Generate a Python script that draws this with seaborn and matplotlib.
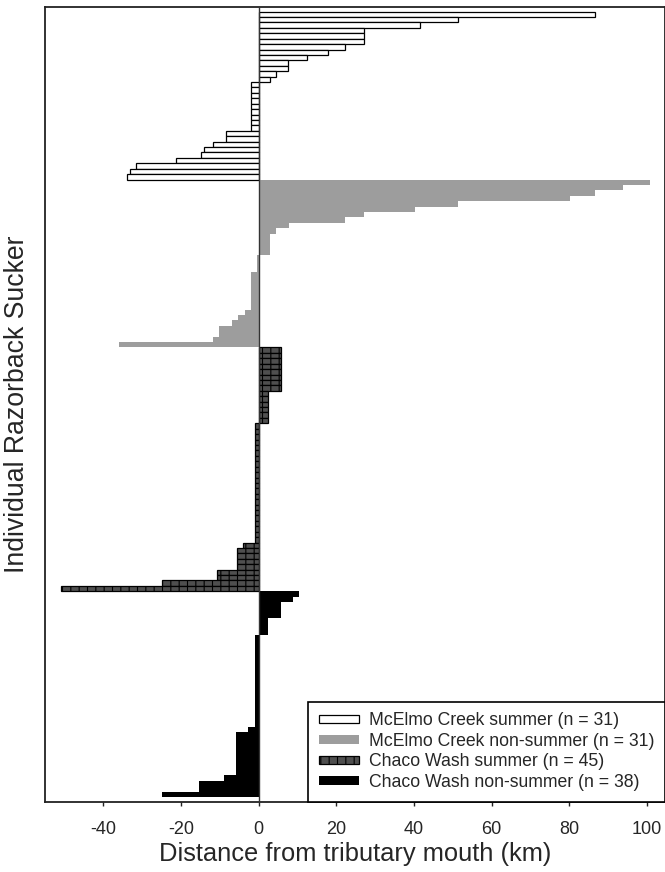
import matplotlib
matplotlib.use("Agg")
import matplotlib.pyplot as plt
from matplotlib.patches import Patch
import pandas as pd
import seaborn as sns

# Distance (km) from the tributary mouth for each tagged fish, sorted within group
mcelmo_summer = [86.7, 51.2, 41.6, 27.0, 27.0, 27.0, 22.2, 17.9, 12.5, 7.6, 7.6, 4.5, 2.8,
                 -1.9, -1.9, -1.9, -1.9, -1.9, -1.9, -1.9, -1.9, -2.1,
                 -8.3, -8.3, -11.7, -14.1, -14.8, -21.3, -31.5, -33.0, -34.0]
mcelmo_nonsummer = [100.7, 93.8, 86.7, 80.2, 51.2, 40.2, 27.1, 22.2, 7.8, 4.5,
                    2.9, 2.9, 2.9, 2.9, -0.5, -0.5, -0.5,
                    -2.0, -2.0, -2.0, -2.0, -2.0, -2.0, -2.0,
                    -3.5, -5.2, -6.8, -10.1, -10.1, -11.7, -35.9]
chaco_summer = [5.75, 5.75, 5.75, 5.75, 5.75, 5.75, 5.75, 5.75,
                2.5, 2.5, 2.5, 2.5, 2.5, 2.5,
                -0.86, -0.86, -0.86, -0.86, -0.86, -0.86, -0.86, -0.86, -0.86, -0.86, -0.86,
                -0.86, -0.86, -0.86, -0.86, -0.86, -0.86, -0.86, -0.86, -0.86, -0.86, -0.86,
                -4.1, -5.6, -5.6, -5.6, -5.6, -10.6, -10.6, -25.0, -50.8]
chaco_nonsummer = [10.3, 8.8, 5.7, 5.7, 5.7, 2.3, 2.3, 2.3,
                   -1.0, -1.0, -1.0, -1.0, -1.0, -1.0, -1.0, -1.0, -1.0, -1.0, -1.0, -1.0,
                   -1.0, -1.0, -1.0, -1.0, -1.0,
                   -2.7, -5.8, -5.8, -5.8, -5.8, -5.8, -5.8, -5.8, -5.8,
                   -8.9, -15.4, -15.4, -25.0]

group_names = ["McElmo Creek summer", "McElmo Creek non-summer",
               "Chaco Wash summer", "Chaco Wash non-summer"]
group_values = [mcelmo_summer, mcelmo_nonsummer, chaco_summer, chaco_nonsummer]
x_ticks = [-40, -20, 0, 20, 40, 60, 80, 100]

rows = []
for name, vals in zip(group_names, group_values):
    for v in vals:
        rows.append({"group": name, "distance": v})
df = pd.DataFrame(rows)
df["fish"] = [f"f{i:03d}" for i in range(len(df))]
labels = [f"{n} (n = {len(v)})" for n, v in zip(group_names, group_values)]

sns.set_style("ticks")
plt.rcParams["font.family"] = ["Liberation Sans", "DejaVu Sans"]
plt.rcParams["axes.unicode_minus"] = False
plt.rcParams["hatch.linewidth"] = 0.8

styles = {
    "McElmo Creek summer": dict(facecolor="white", edgecolor="black", linewidth=0.9, hatch=None),
    "McElmo Creek non-summer": dict(facecolor="#9d9d9d", edgecolor="#9d9d9d", linewidth=0.0, hatch=None),
    "Chaco Wash summer": dict(facecolor="#4f4f4f", edgecolor="black", linewidth=0.9, hatch="||"),
    "Chaco Wash non-summer": dict(facecolor="black", edgecolor="black", linewidth=0.0, hatch=None),
}

fig = plt.figure(figsize=(6.65, 8.72), dpi=100)
ax = fig.add_axes([45 / 665, 1 - 801.5 / 872, 620 / 665, (801.5 - 6.7) / 872])

sns.barplot(data=df, x="distance", y="fish", hue="group", hue_order=group_names,
            order=list(df["fish"]), orient="h", dodge=False, width=1.0,
            palette=[styles[g]["facecolor"] for g in group_names],
            saturation=1, legend=False, ax=ax)

for name, container in zip(group_names, ax.containers):
    st = styles[name]
    for bar in container:
        bar.set_facecolor(st["facecolor"])
        bar.set_edgecolor(st["edgecolor"])
        bar.set_linewidth(st["linewidth"])
        if st["hatch"]:
            bar.set_hatch(st["hatch"])

ax.axvline(0, color="#333333", lw=1.0, zorder=3)

ax.set_xlim(-55, 104.6)
ax.set_ylim(len(df) - 0.5 + 0.8, -0.5 - 0.9)
ax.set_xticks(x_ticks)
ax.set_xticklabels([str(t) for t in x_ticks])
ax.set_yticks([])
ax.tick_params(axis="x", direction="out", length=3.2, width=1.0, labelsize=13,
               color="#222222", pad=11)
for s in ax.spines.values():
    s.set_visible(True)
    s.set_linewidth(1.3)
    s.set_color("#222222")

ax.set_xlabel("Distance from tributary mouth (km)", fontsize=18.4, labelpad=3)
ax.set_ylabel("Individual Razorback Sucker", fontsize=19.2, labelpad=11)

handles = [Patch(facecolor=styles[g]["facecolor"], edgecolor=styles[g]["edgecolor"],
                 linewidth=styles[g]["linewidth"], hatch=styles[g]["hatch"])
           for g in group_names]
leg = ax.legend(handles, labels, loc="lower right", bbox_to_anchor=(1.0, 0.0),
                borderaxespad=0.0, fontsize=12.7, frameon=True, fancybox=False,
                framealpha=1.0, edgecolor="black", handlelength=2.3,
                handleheight=0.38, handletextpad=0.55, labelspacing=0.2,
                borderpad=0.6)
leg.get_frame().set_linewidth(1.2)

fig.savefig("out.png", dpi=100)
